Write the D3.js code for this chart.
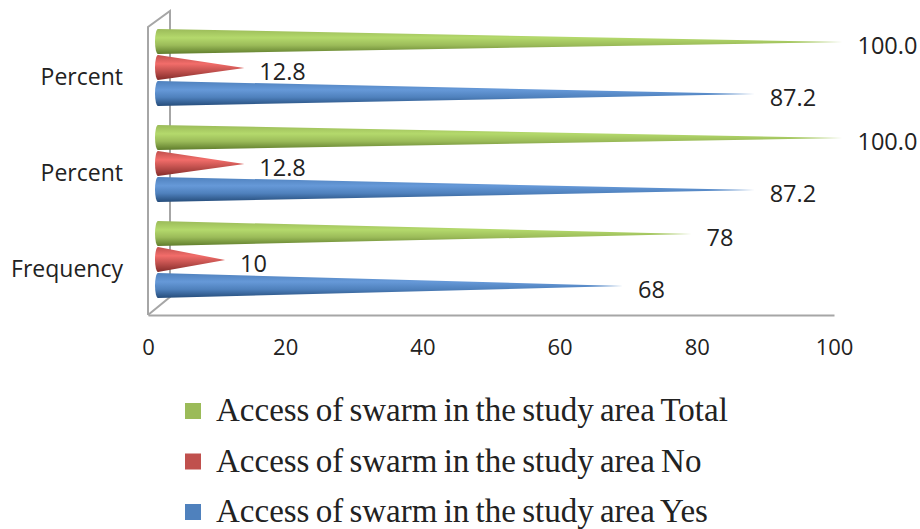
<html>
<script src='https://d3js.org/d3.v7.min.js'></script>
<style>
    body { margin: 0; background: #fff; }
    svg { display: block; }
    .tick text { font-family: "Open Sans"; fill: #222; }
    .lab { font-family: "Open Sans"; font-size: 23.5px; fill: #222; }
    .leg { font-family: "Liberation Serif"; font-size: 33px; word-spacing: -2px; fill: #222; }
</style>
<body>
<svg width=920 height=529></svg>
<script>
var categories = ['Frequency', 'Percent', 'Percent'];
var yesValues = [68, 87.2, 87.2];
var noValues = [10, 12.8, 12.8];
var totalValues = [78, 100, 100];
var xTicks = [0, 20, 40, 60, 80, 100];
var seriesNames = ['Access of swarm in the study area Total', 'Access of swarm in the study area No', 'Access of swarm in the study area Yes'];

var svg = d3.select('svg');
var defs = svg.append('defs');

var x = d3.scaleLinear().domain([0, 100]).range([148, 834]);
var y = d3.scalePoint().domain([2, 1, 0]).range([67, 259]);
var inner = d3.scalePoint().domain([0, 1, 2]).range([-26, 26]);

var series = [
    {name: seriesNames[0], values: totalValues, fill: '#9bbb59', light: '#b4d96c', dark: '#5f7c2c'},
    {name: seriesNames[1], values: noValues, fill: '#c0504d', light: '#f26d6a', dark: '#842c2a'},
    {name: seriesNames[2], values: yesValues, fill: '#4f81bd', light: '#6699d8', dark: '#254c7a'}
];

series.forEach(function(s, i) {
    var g = defs.append('linearGradient').attr('id', 'cone' + i)
        .attr('x1', 0).attr('y1', 0).attr('x2', 0).attr('y2', 1);
    g.append('stop').attr('offset', '0%').attr('stop-color', s.fill);
    g.append('stop').attr('offset', '35%').attr('stop-color', s.light);
    g.append('stop').attr('offset', '65%').attr('stop-color', s.fill);
    g.append('stop').attr('offset', '100%').attr('stop-color', s.dark);
});

// back wall and side of the 3d frame
var depth = 8.5, coneH = 25;
var frame = svg.append('g').attr('fill', 'none').attr('stroke', '#a6a6a6').attr('stroke-width', 2);
frame.append('path').attr('d', 'M148,315V27L170,11V297L148,315');

// cones, drawn top group first
series.forEach(function(s, i) {
    svg.append('g').selectAll('path')
        .data(s.values)
        .enter()
        .append('path')
        .attr('fill', 'url(#cone' + i + ')')
        .attr('d', function(d, j) {
            var cy = y(j) + inner(i) + 0.5;
            var x0 = x(0) + 10;
            var tip = x(d) + depth;
            return 'M' + x0 + ',' + (cy - coneH / 2) +
                'L' + tip + ',' + (cy + 0.5) +
                'L' + x0 + ',' + (cy + coneH / 2) +
                'A3,' + (coneH / 2) + ' 0 0 1 ' + x0 + ',' + (cy - coneH / 2) + 'Z';
        });

    // value on the tip of the cone
    svg.append('g').selectAll('text')
        .data(s.values)
        .enter()
        .append('text')
        .attr('class', 'lab')
        .attr('x', function(d) { return x(d) + depth + 15; })
        .attr('y', function(d, j) { return y(j) + inner(i) + 13; })
        .text(function(d, j) { return j == 0 ? d : d.toFixed(1); });
});

svg.append('g')
    .attr('transform', 'translate(0,315)')
    .call(d3.axisBottom(x).tickValues(xTicks).tickSize(0).tickPadding(24))
    .call(function(a) {
        a.select('.domain').attr('stroke', '#a6a6a6').attr('stroke-width', 2);
        a.selectAll('text').style('font-size', '22px');
    });

svg.append('g')
    .attr('transform', 'translate(148,10)')
    .call(d3.axisLeft(y).tickFormat(function(i) { return categories[i]; }).tickSize(0).tickPadding(25))
    .call(function(a) {
        a.select('.domain').remove();
        a.selectAll('text').style('font-size', '23px');
    });

// legend
var legY = d3.scalePoint().domain(seriesNames).range([411, 512]);
var legend = svg.append('g').selectAll('g')
    .data(series)
    .enter()
    .append('g')
    .attr('transform', function(d) { return 'translate(185,' + legY(d.name) + ')'; });
legend.append('rect')
    .attr('x', 0).attr('y', -8).attr('width', 16).attr('height', 16)
    .attr('fill', function(d) { return d.fill; });
legend.append('text')
    .attr('class', 'leg')
    .attr('x', 31).attr('y', 10)
    .text(function(d) { return d.name; });
</script>
</body>
</html>
